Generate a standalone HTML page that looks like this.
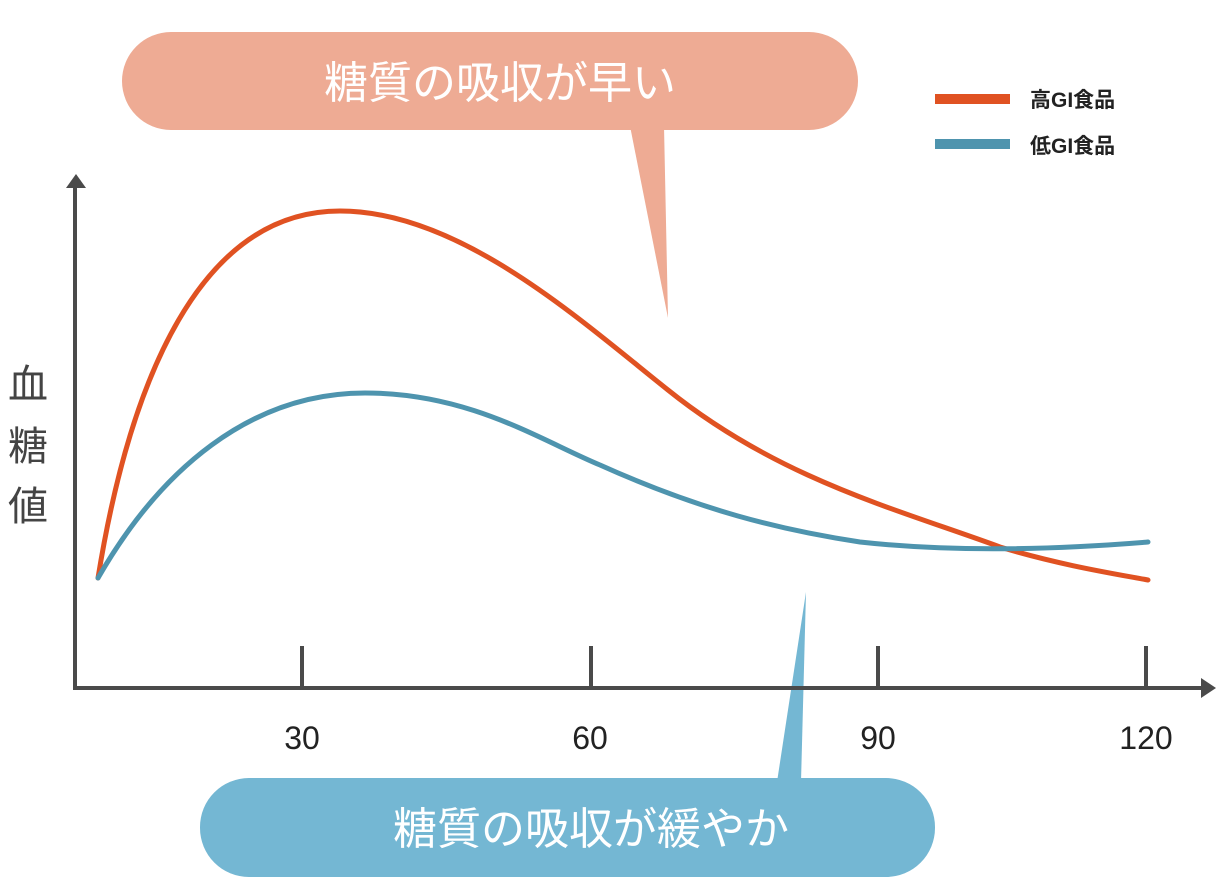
<!DOCTYPE html>
<html><head><meta charset="utf-8"><style>
html,body{margin:0;padding:0;background:#fff;}
svg{display:block}
</style></head><body>
<svg width="1228" height="893" viewBox="0 0 1228 893" xmlns="http://www.w3.org/2000/svg" font-family="'Liberation Sans','Noto Sans CJK JP',sans-serif">
<rect width="1228" height="893" fill="#fff"/>
<rect x="122" y="32" width="736" height="98" rx="49" fill="#EEAB94"/>
<polygon points="630,126 668,318 664,126" fill="#EEAB94"/>
<text x="500" y="98" text-anchor="middle" font-size="44" fill="#fff">糖質の吸収が早い</text>
<rect x="200" y="778" width="735" height="99" rx="49" fill="#74B7D3"/>
<polygon points="777,782 806,592 801,782" fill="#74B7D3"/>
<text x="591" y="844" text-anchor="middle" font-size="44" fill="#fff">糖質の吸収が緩やか</text>
<g stroke="#4a4a4a" stroke-width="4" fill="none">
<line x1="75" y1="186" x2="75" y2="690"/>
<line x1="73" y1="688" x2="1204" y2="688"/>
<line x1="302" y1="646" x2="302" y2="688"/>
<line x1="591" y1="646" x2="591" y2="688"/>
<line x1="878" y1="646" x2="878" y2="688"/>
<line x1="1146" y1="646" x2="1146" y2="688"/>
</g>
<polygon points="66,188 76,174 86,188" fill="#4a4a4a"/>
<polygon points="1201,678 1216,688 1201,698" fill="#4a4a4a"/>
<g font-size="32" fill="#222" text-anchor="middle">
<text x="302" y="749">30</text>
<text x="590" y="749">60</text>
<text x="878" y="749">90</text>
<text x="1146" y="749">120</text>
</g>
<g font-size="40" fill="#444" text-anchor="middle">
<text x="28" y="398">血</text>
<text x="28" y="460">糖</text>
<text x="28" y="520">値</text>
</g>
<path d="M98,578 C130,380 200,211 340,211 C460,211 580,320 668,390 C780,480 900,510 1000,547 C1060,565 1110,573 1148,580" stroke="#E05222" stroke-width="5" fill="none" stroke-linecap="round"/>
<path d="M98,578 C160,470 250,393 365,393 C470,393 540,440 600,465 C700,510 780,530 860,542 C950,552 1050,550 1148,542" stroke="#4E94AE" stroke-width="5" fill="none" stroke-linecap="round"/>
<rect x="935" y="94" width="75" height="10" fill="#E05222"/>
<rect x="935" y="139" width="75" height="10" fill="#4E94AE"/>
<g font-size="21" font-weight="bold" fill="#222">
<text x="1030" y="107">高GI食品</text>
<text x="1030" y="153">低GI食品</text>
</g>
</svg>
</body></html>
